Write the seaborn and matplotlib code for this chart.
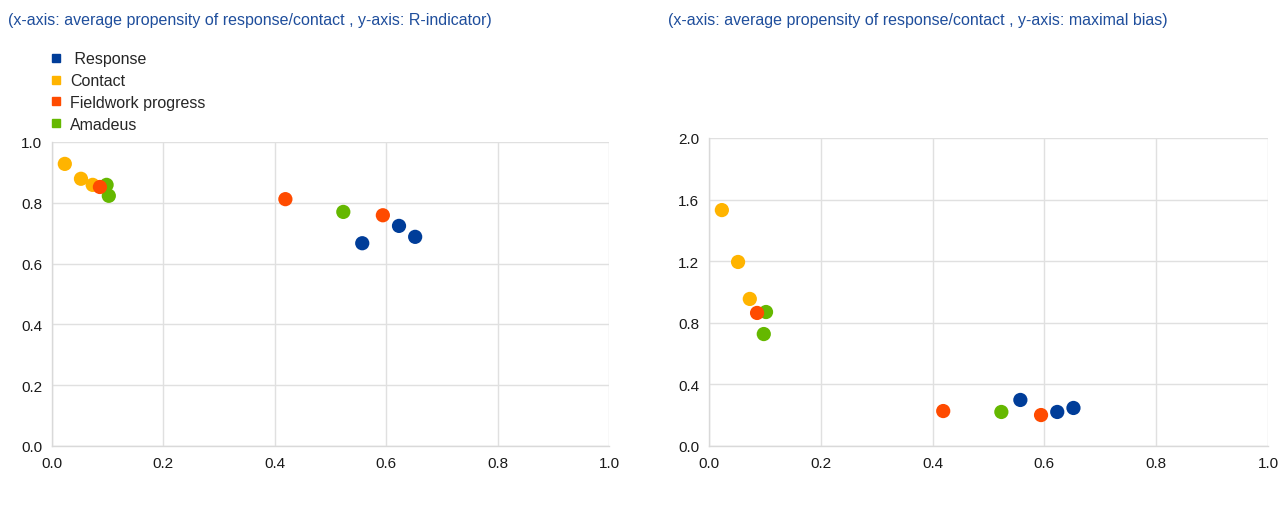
import pandas as pd
import matplotlib
matplotlib.use("Agg")
import matplotlib.pyplot as plt
import seaborn as sns
from matplotlib.lines import Line2D

# values
series = ["Response", "Contact", "Fieldwork progress", "Amadeus"]
colors = ["#003d99", "#ffb400", "#ff4b00", "#65b800"]

response_x = [0.557, 0.623, 0.652]
response_r = [0.667, 0.724, 0.688]
response_bias = [0.299, 0.221, 0.247]

contact_x = [0.023, 0.052, 0.073]
contact_r = [0.928, 0.879, 0.859]
contact_bias = [1.532, 1.195, 0.955]

fieldwork_x = [0.086, 0.419, 0.594]
fieldwork_r = [0.852, 0.812, 0.759]
fieldwork_bias = [0.864, 0.227, 0.201]

amadeus_x = [0.098, 0.102, 0.523]
amadeus_r = [0.859, 0.823, 0.770]
amadeus_bias = [0.727, 0.870, 0.221]

left_title = "(x-axis: average propensity of response/contact , y-axis: R-indicator)"
right_title = "(x-axis: average propensity of response/contact , y-axis: maximal bias)"

rows = []
for name, xs, rs, bs in [("Response", response_x, response_r, response_bias),
                         ("Contact", contact_x, contact_r, contact_bias),
                         ("Fieldwork progress", fieldwork_x, fieldwork_r, fieldwork_bias),
                         ("Amadeus", amadeus_x, amadeus_r, amadeus_bias)]:
    for x, r, b in zip(xs, rs, bs):
        rows.append({"series": name, "propensity": x, "r_indicator": r, "max_bias": b})
df = pd.DataFrame(rows)

sns.set_style("white")
plt.rcParams["font.family"] = ["Liberation Sans", "DejaVu Sans"]
plt.rcParams["font.size"] = 11

fig = plt.figure(figsize=(12.8, 5.06), dpi=100)
ax1 = fig.add_axes([52/1280, 59/506, 557/1280, 304/506])
ax2 = fig.add_axes([709/1280, 59/506, 559/1280, 308/506])

palette = dict(zip(series, colors))
# order so the later series draw on top like the reference
draw_order = ["Response", "Contact", "Amadeus", "Fieldwork progress"]

for ax, ycol, ymax, ystep in [(ax1, "r_indicator", 1.0, 0.2), (ax2, "max_bias", 2.0, 0.4)]:
    for name in draw_order:
        sub = df[df["series"] == name]
        sns.scatterplot(data=sub, x="propensity", y=ycol, color=palette[name],
                        s=105, edgecolor="none", ax=ax, legend=False, zorder=3)
    ax.set_xlim(0, 1.0)
    ax.set_ylim(0, ymax)
    ax.set_xticks([0, 0.2, 0.4, 0.6, 0.8, 1.0])
    ax.set_yticks([round(ystep * i, 1) for i in range(6)])
    ax.xaxis.set_major_formatter(matplotlib.ticker.FormatStrFormatter("%.1f"))
    ax.yaxis.set_major_formatter(matplotlib.ticker.FormatStrFormatter("%.1f"))
    ax.grid(True, color="#e0e0e0", linewidth=1.0)
    ax.set_axisbelow(True)
    for side in ["top", "right"]:
        ax.spines[side].set_visible(False)
    for side in ["left", "bottom"]:
        ax.spines[side].set_color("#d9d9d9")
        ax.spines[side].set_linewidth(1.0)
    ax.tick_params(axis="both", length=4, width=1, color="#d9d9d9",
                   labelsize=11, labelcolor="#1a1a1a", pad=3)
    ax.set_xlabel("")
    ax.set_ylabel("")

fig.text(8/1280, 1 - 20/506, left_title, color="#1f4e9c", fontsize=11.5, va="center", ha="left")
fig.text(668/1280, 1 - 20/506, right_title, color="#1f4e9c", fontsize=11.5, va="center", ha="left")

handles = [Line2D([0], [0], marker="s", linestyle="", markersize=6,
                  markerfacecolor=c, markeredgecolor=c) for c in colors]
labels = [" Response", "Contact", "Fieldwork progress", "Amadeus"]
fig.legend(handles, labels, loc="upper left", bbox_to_anchor=(42/1280, 1 - 46/506),
           frameon=False, fontsize=11.5, handletextpad=0.35, labelspacing=0.42,
           handlelength=1.0, borderaxespad=0)

fig.savefig("out.png", dpi=100)
